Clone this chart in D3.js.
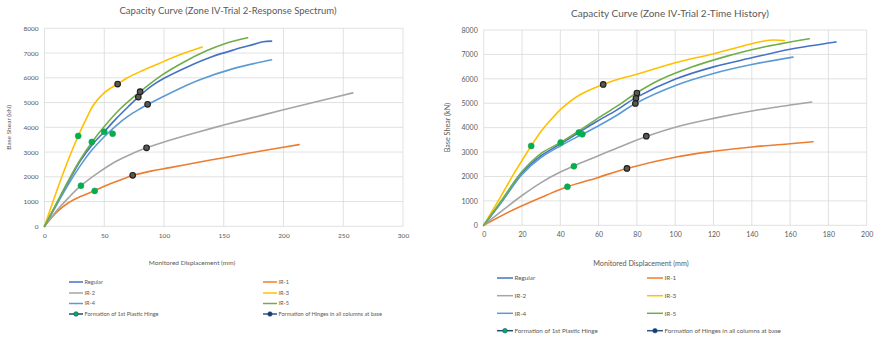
<!DOCTYPE html>
<html><head><meta charset="utf-8">
<script src="https://cdn.jsdelivr.net/npm/d3@7"></script>
<style>
html,body{margin:0;padding:0;background:#fff;}
svg{display:block;font-family:Lato,"Open Sans",sans-serif;}
</style></head>
<body>
<svg id="c" width="874" height="341"></svg>
<script>
// ---------- DATA ----------
const seriesNames = ["Regular","IR-1","IR-2","IR-3","IR-4","IR-5"];
const seriesColors = ["#4472C4","#ED7D31","#A5A5A5","#FFC000","#5B9BD5","#70AD47"];
const hingeNames = ["Formation of 1st Plastic Hinge","Formation of Hinges in all columns at base"];

// Response Spectrum curves [displacement mm, base shear kN]
const rsRegular = [[0,0],[10,900],[20,1800],[30,2650],[40,3300],[50,3820],[60,4350],[70,4830],[78.5,5220],[90,5680],[100,5980],[120,6450],[140,6850],[160,7150],[175,7350],[183,7460],[190,7480]];
const rsIR1 = [[0,0],[10,560],[20,950],[30,1200],[42,1440],[55,1720],[65,1900],[73.8,2050],[90,2240],[105,2370],[130,2600],[150,2770],[180,3030],[213,3300]];
const rsIR2 = [[0,0],[10,620],[20,1150],[30.5,1640],[46,2200],[60,2630],[74,2950],[85.4,3170],[102,3440],[125,3760],[150,4090],[175,4400],[200,4710],[230,5060],[258,5390]];
const rsIR3 = [[0,0],[10,1400],[20,2700],[28.2,3650],[35,4350],[41,4900],[49,5350],[55,5570],[61.2,5745],[69,5990],[80,6250],[95,6560],[110,6870],[132,7240]];
const rsIR4 = [[0,0],[10,850],[20,1700],[30,2450],[40,3100],[50,3620],[60,4070],[70,4450],[80,4750],[86.3,4920],[108,5450],[130,5920],[158,6370],[190,6730]];
const rsIR5 = [[0,0],[10,930],[20,1850],[30,2700],[40,3420],[50,4030],[63,4730],[80,5440],[97,6070],[116,6620],[136,7100],[152,7400],[170,7620]];
const rsFirstHinge = [[50,3820],[42,1430],[30.5,1640],[28.2,3650],[57,3740],[39.6,3410]];
const rsAllHinge = [[78.5,5220],[73.8,2060],[85.4,3170],[61.2,5745],[86.3,4930],[80,5440]];

// Time History curves
const thRegular = [[0,0],[10,1050],[20,2150],[30,2850],[40,3330],[49.7,3800],[59,4250],[69.4,4720],[79.5,5230],[100.5,6000],[120,6490],[140,6860],[160,7210],[184,7510]];
const thIR1 = [[0,0],[15.5,640],[32.9,1240],[43.7,1580],[59,1940],[74.8,2330],[100.5,2800],[120,3030],[140,3210],[160,3340],[172,3420]];
const thIR2 = [[0,0],[10,620],[20,1220],[30,1750],[40,2180],[47.1,2430],[59,2820],[70,3180],[84.9,3640],[100.5,4030],[120,4380],[140,4680],[160,4925],[171.3,5050]];
const thIR3 = [[0,0],[8.5,1120],[16,2150],[24.8,3250],[30,3850],[35,4320],[41.6,4850],[50.3,5350],[62.4,5770],[71,6000],[80,6190],[100,6660],[120,7030],[140,7440],[149,7580],[157,7570]];
const thIR4 = [[0,0],[10,1020],[20,2080],[30,2780],[40,3250],[51.5,3730],[60,4080],[70,4530],[79.2,4990],[100.5,5740],[120,6220],[140,6585],[161.5,6890]];
const thIR5 = [[0,0],[10,1100],[20,2200],[30,2950],[40.2,3390],[50,3880],[59,4350],[69.4,4870],[80,5430],[91.8,5950],[109,6490],[126.6,6920],[144,7265],[170,7640]];
const thFirstHinge = [[49.7,3800],[43.7,1580],[47.1,2420],[24.8,3250],[51.5,3730],[40.2,3390]];
const thAllHinge = [[79.5,5200],[74.8,2330],[84.9,3650],[62.4,5770],[79.2,4990],[80,5420]];

const rsXTicks = [0,50,100,150,200,250,300];
const thXTicks = [0,20,40,60,80,100,120,140,160,180,200];
const yTicks = [0,1000,2000,3000,4000,5000,6000,7000,8000];

// ---------- DRAW ----------
const svg = d3.select("#c");
const txt = "#595959";

function drawChart(cfg){
  const g = svg.append("g");
  const x = d3.scaleLinear().domain([0, cfg.xMax]).range([cfg.left, cfg.right]);
  const y = d3.scaleLinear().domain([0, 8000]).range([cfg.bottom, cfg.top]);

  // gridlines
  g.append("g").selectAll("line").data(yTicks).join("line")
    .attr("x1", cfg.left).attr("x2", cfg.right)
    .attr("y1", d=>y(d)).attr("y2", d=>y(d))
    .attr("stroke", "#d9d9d9").attr("stroke-width", 0.8);
  g.append("g").selectAll("line").data(cfg.xTicks).join("line")
    .attr("x1", d=>x(d)).attr("x2", d=>x(d))
    .attr("y1", cfg.top).attr("y2", cfg.bottom)
    .attr("stroke", "#d9d9d9").attr("stroke-width", 0.8);

  // axes (labels only)
  const ya = g.append("g").attr("transform", `translate(${cfg.left},0)`)
    .call(d3.axisLeft(y).tickValues(yTicks).tickFormat(d3.format("d")).tickSize(0).tickPadding(6));
  const xa = g.append("g").attr("transform", `translate(0,${cfg.bottom})`)
    .call(d3.axisBottom(x).tickValues(cfg.xTicks).tickFormat(d3.format("d")).tickSize(0).tickPadding(7));
  [ya, xa].forEach(a=>{
    a.select(".domain").remove();
    a.selectAll("text").attr("fill", txt).style("font-size", cfg.tickFont + "px").style("font-family","Lato,sans-serif");
  });

  const line = d3.line().x(d=>x(d[0])).y(d=>y(d[1])).curve(d3.curveCatmullRom.alpha(0.5));
  cfg.series.forEach((s,i)=>{
    g.append("path").datum(s).attr("d", line)
      .attr("fill","none").attr("stroke", seriesColors[i]).attr("stroke-width", 1.6)
      .attr("stroke-linejoin","round").attr("stroke-linecap","round");
  });

  // hinge markers
  g.append("g").selectAll("circle").data(cfg.first).join("circle")
    .attr("cx", d=>x(d[0])).attr("cy", d=>y(d[1])).attr("r", 3)
    .attr("fill", "#00B050").attr("stroke", "#1e9e4a").attr("stroke-width", 0.6);
  g.append("g").selectAll("circle").data(cfg.all).join("circle")
    .attr("cx", d=>x(d[0])).attr("cy", d=>y(d[1])).attr("r", 2.8)
    .attr("fill", "#5a5a4a").attr("stroke", "#1c1c24").attr("stroke-width", 1.1);

  // title
  g.append("text").attr("x", cfg.titleX).attr("y", cfg.titleY).attr("text-anchor","middle")
    .attr("fill", txt).style("font-size", cfg.titleFont + "px").text(cfg.title);
  // y label
  g.append("text").attr("transform", `translate(${cfg.yLabX},${(cfg.top+cfg.bottom)/2}) rotate(-90)`)
    .attr("text-anchor","middle").attr("fill", txt).style("font-size", cfg.labFont + "px")
    .text("Base Shear (kN)");
  // x label
  g.append("text").attr("x", cfg.xLabX).attr("y", cfg.xLabY).attr("text-anchor","middle")
    .attr("fill", txt).style("font-size", cfg.labFont + "px").text("Monitored Displacement (mm)");

  // legend
  const items = [];
  seriesNames.forEach((n,i)=>items.push({name:n, color:seriesColors[i], type:"line"}));
  items.push({name:hingeNames[0], color:"#1F4E79", mk:"#00B050", type:"mk"});
  items.push({name:hingeNames[1], color:"#2F5597", mk:"#1F3864", type:"mk"});
  items.forEach((it,k)=>{
    const col = k % 2, row = Math.floor(k/2);
    const lx = cfg.legCols[col], ly = cfg.legRows[row];
    g.append("line").attr("x1", lx).attr("x2", lx + cfg.legLen).attr("y1", ly).attr("y2", ly)
      .attr("stroke", it.color).attr("stroke-width", 1.5);
    if(it.type === "mk"){
      g.append("circle").attr("cx", lx + cfg.legLen/2).attr("cy", ly).attr("r", 2.3)
        .attr("fill", it.mk).attr("stroke", it.color).attr("stroke-width", 0.6);
    }
    g.append("text").attr("x", lx + cfg.legLen + 1.5).attr("y", ly).attr("dy","0.35em")
      .attr("fill", txt).style("font-size", cfg.legFont + "px").text(it.name);
  });
}

drawChart({
  left:44.5, right:403, top:28.3, bottom:226.3, xMax:300, xTicks:rsXTicks,
  series:[rsRegular, rsIR1, rsIR2, rsIR3, rsIR4, rsIR5], first:rsFirstHinge, all:rsAllHinge,
  title:"Capacity Curve (Zone IV-Trial 2-Response Spectrum)", titleX:228, titleY:14, titleFont:9.5,
  yLabX:11, xLabX:192, xLabY:265, labFont:6.5, tickFont:6.5,
  legCols:[69,263], legRows:[282,293,303.5,314], legLen:14, legFont:5.6
});
drawChart({
  left:483.7, right:866.7, top:30, bottom:225.3, xMax:200, xTicks:thXTicks,
  series:[thRegular, thIR1, thIR2, thIR3, thIR4, thIR5], first:thFirstHinge, all:thAllHinge,
  title:"Capacity Curve (Zone IV-Trial 2-Time History)", titleX:670, titleY:17, titleFont:10,
  yLabX:450, xLabX:641, xLabY:266, labFont:7.2, tickFont:7,
  legCols:[497,647], legRows:[278,295.7,313.3,330.7], legLen:16, legFont:6.3
});
</script>
</body></html>
